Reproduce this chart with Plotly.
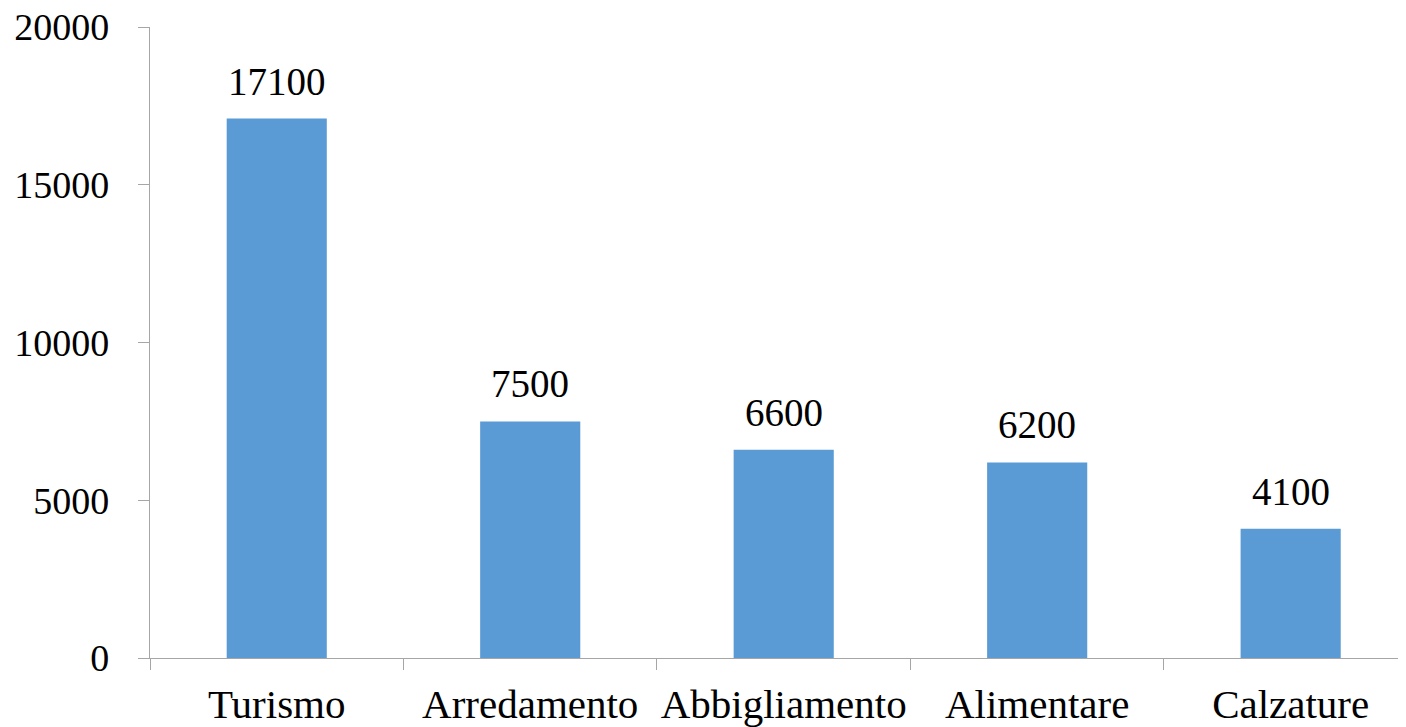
import plotly.graph_objects as go

categories = ["Turismo", "Arredamento", "Abbigliamento", "Alimentare", "Calzature"]
values = [17100, 7500, 6600, 6200, 4100]
y_ticks = [0, 5000, 10000, 15000, 20000]

FONT = "Liberation Serif"

fig = go.Figure(
    go.Bar(
        x=categories,
        y=values,
        marker=dict(color="#5B9BD5", line=dict(width=0)),
        cliponaxis=False,
    )
)

for c, v in zip(categories, values):
    fig.add_annotation(
        x=c, y=v, text=str(v), showarrow=False,
        xanchor="center", yanchor="bottom", yshift=14,
        font=dict(family=FONT, size=39, color="#000000"),
    )

fig.update_layout(
    width=1398,
    height=719,
    margin=dict(l=142, r=0, t=19, b=69, autoexpand=False),
    paper_bgcolor="white",
    plot_bgcolor="white",
    bargap=0.605,
    showlegend=False,
    font=dict(family=FONT, size=38, color="#000000"),
)

fig.update_xaxes(
    type="category",
    range=[-0.5, 4.455],
    automargin=False,
    tickangle=0,
    showline=True,
    linecolor="#A6A6A6",
    linewidth=1.3,
    ticks="outside",
    tickson="boundaries",
    ticklen=11,
    tickcolor="#A6A6A6",
    tickwidth=1.3,
    showgrid=False,
    tickfont=dict(family=FONT, size=41, color="#000000"),
    ticklabelstandoff=10,
    ticklabeloverflow="allow",
)

fig.update_yaxes(
    range=[0, 20000.5],
    automargin=False,
    tickvals=y_ticks,
    ticktext=[str(t) for t in y_ticks],
    showline=True,
    linecolor="#A6A6A6",
    linewidth=1.3,
    ticks="outside",
    ticklen=11,
    tickcolor="#A6A6A6",
    tickwidth=1.3,
    showgrid=False,
    zeroline=False,
    tickfont=dict(family=FONT, size=38, color="#000000"),
    ticklabelstandoff=21,
    ticklabeloverflow="allow",
)

fig.write_html("out.html")
